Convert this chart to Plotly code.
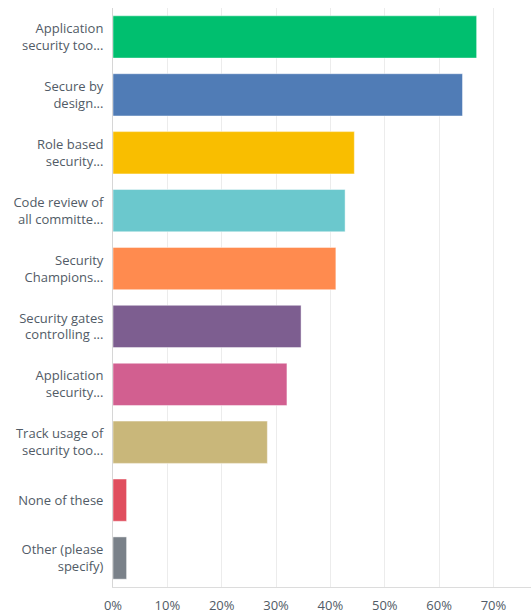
import plotly.graph_objects as go

# Survey answer choices (wrapped to two lines) and share of respondents, in %
categories = [
    "Application<br>security too...",
    "Secure by<br>design...",
    "Role based<br>security...",
    "Code review of<br>all committe...",
    "Security<br>Champions...",
    "Security gates<br>controlling ...",
    "Application<br>security...",
    "Track usage of<br>security too...",
    "None of these",
    "Other (please<br>specify)",
]
percentages = [66.9, 64.3, 44.4, 42.7, 41.0, 34.6, 32.0, 28.4, 2.5, 2.5]
bar_colors = [
    "#00BF6F", "#507CB6", "#F9BE00", "#6BC8CD", "#FF8B4F",
    "#7D5E90", "#D25F90", "#C9B77A", "#E04E5E", "#7A8189",
]
tick_values = [0, 10, 20, 30, 40, 50, 60, 70]
tick_labels = ["0%", "10%", "20%", "30%", "40%", "50%", "60%", "70%"]

text_color = "#515b66"

fig = go.Figure(
    go.Bar(
        x=percentages,
        y=categories,
        orientation="h",
        marker=dict(color=bar_colors, line=dict(color="rgba(255,255,255,0.45)", width=1)),
        hoverinfo="x+y",
    )
)

fig.update_layout(
    width=531,
    height=613,
    margin=dict(l=113, r=0, t=8, b=26),
    paper_bgcolor="white",
    plot_bgcolor="white",
    bargap=0.27,
    showlegend=False,
    font=dict(family="Open Sans, sans-serif", size=13, color=text_color),
)

fig.update_xaxes(
    range=[0, 76.9],
    tickvals=tick_values,
    ticktext=tick_labels,
    showgrid=True,
    gridcolor="#ececec",
    gridwidth=1,
    zeroline=False,
    showline=True,
    linecolor="#dcdcdc",
    linewidth=1,
    ticks="",
    ticklabelstandoff=6,
    tickfont=dict(size=13, color=text_color),
    fixedrange=True,
)

fig.update_yaxes(
    autorange="reversed",
    showgrid=False,
    zeroline=False,
    showline=True,
    linecolor="#d6d6d6",
    linewidth=1,
    ticks="",
    ticklabelstandoff=6,
    tickfont=dict(size=13, color=text_color),
    fixedrange=True,
)

fig.write_html("out.html")
